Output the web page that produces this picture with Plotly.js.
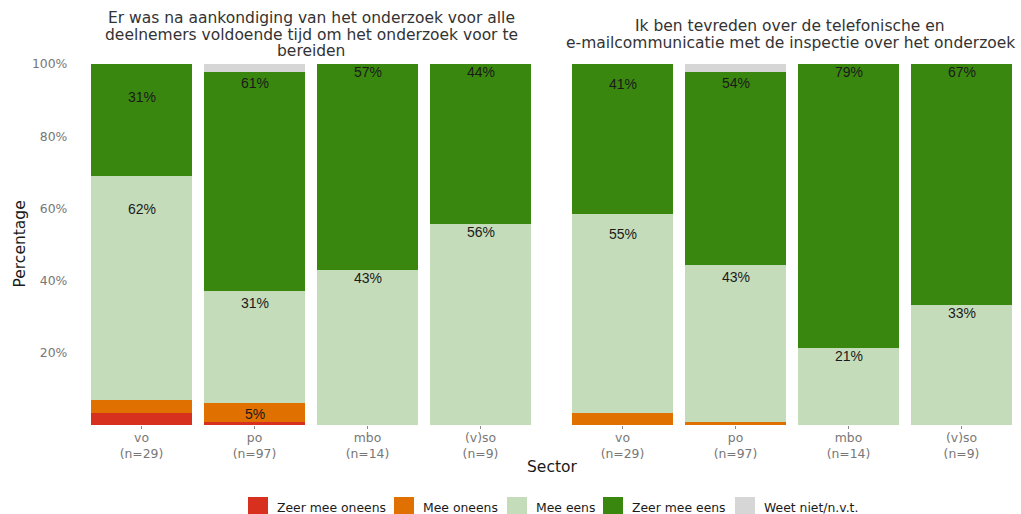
<!DOCTYPE html>
<html>
<head>
<meta charset="utf-8">
<script src="https://cdn.plot.ly/plotly-3.0.1.min.js"></script>
<style>html,body{margin:0;padding:0;background:#fff;} #chart{width:1021px;height:514px;}</style>
</head>
<body>
<div id="chart"></div>
<script>
// ---- data ----
const categories = ['vo', 'po', 'mbo', '(v)so'];
const tickLabels = ['vo<br>(n=29)', 'po<br>(n=97)', 'mbo<br>(n=14)', '(v)so<br>(n=9)'];
const seriesNames = ['Zeer mee oneens', 'Mee oneens', 'Mee eens', 'Zeer mee eens', 'Weet niet/n.v.t.'];
const seriesColors = ['#D7301F', '#E07000', '#C5DCBA', '#3A870F', '#D6D6D6'];

const panel1Title = ['Er was na aankondiging van het onderzoek voor alle', 'deelnemers voldoende tijd om het onderzoek voor te', 'bereiden'];
const panel2Title = ['Ik ben tevreden over de telefonische en', 'e-mailcommunicatie met de inspectie over het onderzoek'];

// panel 1 (percentages)
const p1ZeerOneens = [3.45, 1.0, 0, 0];
const p1MeeOneens  = [3.45, 5.2, 0, 0];
const p1MeeEens    = [62.1, 30.9, 42.9, 55.6];
const p1ZeerEens   = [31.0, 60.8, 57.1, 44.4];
const p1WeetNiet   = [0, 2.1, 0, 0];

// panel 2 (percentages)
const p2ZeerOneens = [0, 0, 0, 0];
const p2MeeOneens  = [3.4, 1.0, 0, 0];
const p2MeeEens    = [55.2, 43.3, 21.4, 33.3];
const p2ZeerEens   = [41.4, 53.6, 78.6, 66.7];
const p2WeetNiet   = [0, 2.1, 0, 0];

const yTickVals = [20, 40, 60, 80, 100];
const yTickText = ['20%', '40%', '60%', '80%', '100%'];
const labelThreshold = 5;

// ---- build ----
const W = 1021, H = 514;
const px = v => v / W;
const py = v => 1 - v / H;
const FONT = 'DejaVu Sans, Verdana, sans-serif';

const panels = [
  {series: [p1ZeerOneens, p1MeeOneens, p1MeeEens, p1ZeerEens, p1WeetNiet], xa: 'x', title: panel1Title},
  {series: [p2ZeerOneens, p2MeeOneens, p2MeeEens, p2ZeerEens, p2WeetNiet], xa: 'x2', title: panel2Title}
];

const traces = [];
const annotations = [];
panels.forEach(p => {
  p.series.forEach((vals, si) => {
    traces.push({
      type: 'bar', x: categories, y: vals, name: seriesNames[si],
      xaxis: p.xa, yaxis: 'y', width: 0.9,
      marker: {color: seriesColors[si], line: {width: 0}},
      showlegend: false, hoverinfo: 'y+name'
    });
  });
  // labels: stacked positions of labelled segments, text just under the top
  categories.forEach((c, ci) => {
    let cum = 0;
    p.series.forEach(vals => {
      const v = vals[ci];
      if (v >= labelThreshold) {
        cum += v;
        annotations.push({
          xref: p.xa, yref: 'y', x: c, y: cum, text: Math.round(v) + '%',
          showarrow: false, yanchor: 'middle', yshift: -8,
          font: {family: 'Liberation Sans, Arial, sans-serif', size: 14, color: '#1a1a1a'}
        });
      }
    });
  });
});

// titles (one annotation per line for tight spacing)
const titleFont = {family: FONT, size: 15.5, color: '#333333'};
[[311, [18.5, 35, 51.5]], [790, [26, 43]]].forEach((t, i) => {
  panels[i].title.forEach((line, li) => {
    annotations.push({xref: 'paper', yref: 'paper', x: px(t[0]), y: py(t[1][li]), text: line,
      showarrow: false, xanchor: 'center', yanchor: 'middle', font: titleFont});
  });
});

annotations.push({xref: 'paper', yref: 'paper', x: px(552), y: py(467), text: 'Sector', showarrow: false,
  xanchor: 'center', yanchor: 'middle', font: {family: FONT, size: 15.5, color: '#1a1a1a'}});
annotations.push({xref: 'paper', yref: 'paper', x: px(19), y: py(244.5), text: 'Percentage', showarrow: false,
  textangle: -90, xanchor: 'center', yanchor: 'middle', font: {family: FONT, size: 15.5, color: '#1a1a1a'}});

// legend (manual, large swatches)
const shapes = [];
const legSwatchX = [248, 394, 507, 603, 735];
seriesNames.forEach((n, i) => {
  shapes.push({type: 'rect', xref: 'paper', yref: 'paper', x0: px(legSwatchX[i]), x1: px(legSwatchX[i] + 20),
    y0: py(517), y1: py(497), fillcolor: seriesColors[i], line: {width: 0}});
  annotations.push({xref: 'paper', yref: 'paper', x: px(legSwatchX[i] + 27), y: py(507.5), text: n, showarrow: false,
    xanchor: 'left', yanchor: 'middle', font: {family: FONT, size: 12.4, color: '#1a1a1a'}});
});

const xCommon = {
  type: 'category', tickmode: 'array', tickvals: categories, ticktext: tickLabels,
  showgrid: false, zeroline: false, showline: false, ticks: 'outside', ticklen: 3, tickcolor: '#8a8a8a', tickwidth: 1,
  ticklabelstandoff: -2,
  tickfont: {family: FONT, size: 12.4, color: '#777777'}, fixedrange: true
};

const layout = {
  width: W, height: H, margin: {l: 0, r: 0, t: 0, b: 0},
  paper_bgcolor: '#ffffff', plot_bgcolor: '#ffffff',
  barmode: 'stack', showlegend: false,
  xaxis: Object.assign({}, xCommon, {domain: [px(79.35), px(542.65)], range: [-0.55, 3.55], anchor: 'y'}),
  xaxis2: Object.assign({}, xCommon, {domain: [px(566), px(1012.35)], range: [-0.5, 3.45], anchor: 'y'}),
  yaxis: {domain: [py(425.25), py(64)], range: [0, 100], tickmode: 'array', tickvals: yTickVals, ticktext: yTickText,
    showgrid: false, zeroline: false, showline: false, ticks: '', ticklabelstandoff: 11,
    tickfont: {family: FONT, size: 12.4, color: '#777777'}, fixedrange: true},
  annotations: annotations, shapes: shapes
};

Plotly.newPlot('chart', traces, layout, {displayModeBar: false, staticPlot: true});
</script>
</body>
</html>
